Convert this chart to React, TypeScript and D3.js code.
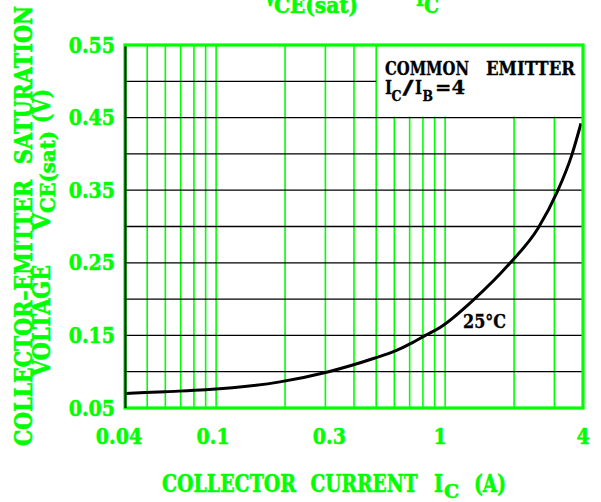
import React from 'react';
import * as d3 from 'd3';

// ---- data ----
const IC = [0.04, 0.06, 0.09, 0.19, 0.31, 0.49, 0.61, 0.72, 0.82, 0.95, 1.33, 1.9, 2.55, 3.09, 3.57, 3.92];
const VCE = [0.07, 0.0725, 0.075, 0.086, 0.1, 0.1185, 0.129, 0.14, 0.15, 0.161, 0.199, 0.248, 0.298, 0.348, 0.398, 0.442];
const xGrid = [0.05, 0.06, 0.07, 0.08, 0.09, 0.1, 0.2, 0.3, 0.4, 0.5, 0.6, 0.7, 0.8, 0.9, 1, 2, 3];
const yGrid = [0.1, 0.15, 0.2, 0.25, 0.3, 0.35, 0.4, 0.45, 0.5];
const xTicks = [0.04, 0.1, 0.3, 1, 4];
const xTickLabels = ['0.04', '0.1', '0.3', '1', '4'];
const yTicks = [0.05, 0.15, 0.25, 0.35, 0.45, 0.55];
const yTickLabels = ['0.05', '0.15', '0.25', '0.35', '0.45', '0.55'];
const curveLabel = '25°C';
const legendLine1 = ['COMMON', 'EMITTER'];

const W = 601, H = 502;
const L = 125, R = 583, T = 45, B = 408;
const GREEN = '#00ff00';
const FONT = '"DejaVu Serif", serif';

type TP = { x: number; y: number; size: number; fill: string; anchor?: string; sy?: number; rot?: number; len?: number; sw?: number; children: React.ReactNode };
const Txt = ({ x, y, size, fill, anchor = 'start', sy = 1.2, rot = 0, len, sw = 0.5, children }: TP) => (
  <text
    transform={`translate(${x},${y})${rot ? ` rotate(${rot})` : ''} scale(1,${sy})`}
    fontSize={size}
    fontFamily={FONT}
    fontWeight="bold"
    fill={fill}
    stroke={fill}
    strokeWidth={sw}
    textAnchor={anchor}
    textLength={len}
    lengthAdjust={len ? 'spacingAndGlyphs' : undefined}
  >
    {children}
  </text>
);

export default function App() {
  const x = d3.scaleLog().domain([0.04, 4]).range([L, R]);
  const y = d3.scaleLinear().domain([0.05, 0.55]).range([B, T]);
  const line = d3
    .line<number>()
    .x((_, i) => x(IC[i]))
    .y((d) => y(d))
    .curve(d3.curveMonotoneX);

  const legX = x(0.5);
  const legB = y(0.45);

  return (
    <svg width={W} height={H} style={{ position: 'absolute', left: 0, top: 0, background: '#fff' }}>
      <rect x={0} y={0} width={W} height={H} fill="#fff" />
      {/* vertical green grid */}
      {xGrid.map((v) => (
        <line key={'vx' + v} x1={x(v)} x2={x(v)} y1={T} y2={B} stroke={GREEN} strokeWidth={1.6} />
      ))}
      {/* horizontal black grid */}
      {yGrid.map((v) => (
        <line key={'hy' + v} x1={L} x2={v >= 0.5 ? legX : R} y1={y(v)} y2={y(v)} stroke="#000" strokeWidth={1.3} />
      ))}
      {/* legend box */}
      <rect x={legX + 1} y={T} width={R - legX - 1} height={legB - T - 1} fill="#fff" />
      <Txt x={385} y={74.5} size={16} fill="#000" sy={1.1} len={84} sw={0.3}>{legendLine1[0]}</Txt>
      <Txt x={486} y={74.5} size={16} fill="#000" sy={1.1} len={89} sw={0.3}>{legendLine1[1]}</Txt>
      <Txt x={385} y={93.5} size={17} fill="#000" sy={1.1} len={7} sw={0.3}>I</Txt>
      <Txt x={391.5} y={100.5} size={13} fill="#000" sy={1.1} len={10} sw={0.3}>C</Txt>
      <Txt x={402.5} y={93.5} size={17} fill="#000" sy={1.1} len={11} sw={0.3}>/</Txt>
      <Txt x={415} y={93.5} size={17} fill="#000" sy={1.1} len={7} sw={0.3}>I</Txt>
      <Txt x={422.5} y={100.5} size={13} fill="#000" sy={1.1} len={10.5} sw={0.3}>B</Txt>
      <Txt x={435} y={93.5} size={17} fill="#000" sy={1.1} len={30} sw={0.3}>=4</Txt>
      {/* curve */}
      <path d={line(VCE) || ''} fill="none" stroke="#000" strokeWidth={3} />
      <Txt x={463} y={327.5} size={16} fill="#000" sy={1.2} len={43} sw={0.3}>{curveLabel}</Txt>
      {/* frame */}
      <rect x={L} y={T} width={R - L} height={B - T} fill="none" stroke={GREEN} strokeWidth={3.2} />
      <line x1={L + 0.5} x2={L + 0.5} y1={T + 1.5} y2={B} stroke="#000" strokeWidth={2} />
      {/* y tick labels */}
      {yTicks.map((v, i) => (
        <Txt key={'yt' + v} x={115} y={y(v) + 7.5} size={19} fill={GREEN} anchor="end" sy={1.15}>
          {yTickLabels[i]}
        </Txt>
      ))}
      {/* x tick labels */}
      {xTicks.map((v, i) => (
        <Txt key={'xt' + v} x={x(v) - (i === 0 ? 6 : i === 1 ? 3 : i === 2 ? -4 : i === 3 ? 5 : 0)} y={443.5} size={19} fill={GREEN} anchor="middle" sy={1.15}>
          {xTickLabels[i]}
        </Txt>
      ))}
      {/* x axis title */}
      <Txt x={162} y={491.5} size={20} fill={GREEN} sy={1.25} len={134}>COLLECTOR</Txt>
      <Txt x={310.5} y={491.5} size={20} fill={GREEN} sy={1.25} len={107}>CURRENT</Txt>
      <Txt x={434} y={491.5} size={20} fill={GREEN} sy={1.25} len={9}>I</Txt>
      <Txt x={444} y={498} size={16} fill={GREEN} sy={1.2} len={15}>C</Txt>
      <Txt x={474} y={491.5} size={20} fill={GREEN} sy={1.25} len={32}>(A)</Txt>
      {/* y axis title */}
      <Txt x={31.5} y={446} size={20} fill={GREEN} sy={1.2} rot={-90} len={266}>COLLECTOR–EMITTER</Txt>
      <Txt x={31.5} y={164} size={20} fill={GREEN} sy={1.2} rot={-90} len={158}>SATURATION</Txt>
      <Txt x={50} y={376} size={20} fill={GREEN} sy={1.2} rot={-90} len={111}>VOLTAGE</Txt>
      <Txt x={50} y={231} size={20} fill={GREEN} sy={1.2} rot={-90} len={18}>V</Txt>
      <Txt x={55} y={213} size={17} fill={GREEN} sy={1.2} rot={-90} len={82}>CE(sat)</Txt>
      <Txt x={50} y={123} size={20} fill={GREEN} sy={1.2} rot={-90} len={34}>(V)</Txt>
      {/* top title (cut off) */}
      <Txt x={264} y={6} size={20} fill={GREEN} sy={1.2} len={12}>V</Txt>
      <Txt x={274} y={12.5} size={18} fill={GREEN} sy={1.2} len={84}>CE(sat)</Txt>
      <Txt x={416} y={6} size={20} fill={GREEN} sy={1.2} len={8}>I</Txt>
      <Txt x={424} y={12.5} size={18} fill={GREEN} sy={1.2} len={15}>C</Txt>
    </svg>
  );
}
